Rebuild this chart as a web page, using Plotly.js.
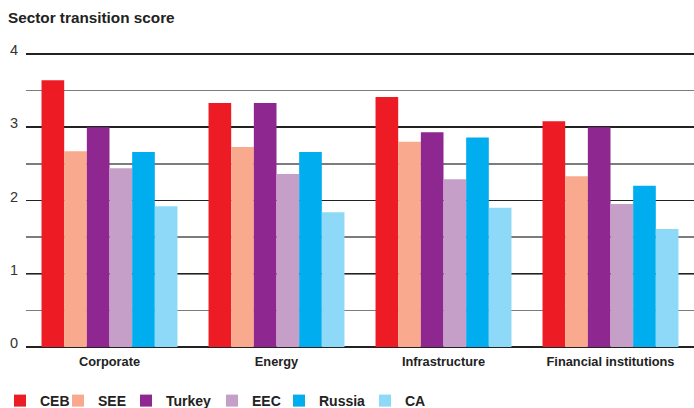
<!DOCTYPE html>
<html>
<head>
<meta charset="utf-8">
<script src="https://cdn.plot.ly/plotly-3.0.1.min.js"></script>
<style>html,body{margin:0;padding:0;background:#fff;}#chart{width:694px;height:408px;}</style>
</head>
<body>
<div id="chart"></div>
<script>
const categories = ["Corporate", "Energy", "Infrastructure", "Financial institutions"];
const seriesNames = ["CEB", "SEE", "Turkey", "EEC", "Russia", "CA"];
const CEB    = [3.64, 3.33, 3.41, 3.08];
const SEE    = [2.67, 2.73, 2.80, 2.33];
const Turkey = [3.00, 3.33, 2.93, 3.00];
const EEC    = [2.44, 2.36, 2.29, 1.95];
const Russia = [2.66, 2.66, 2.86, 2.20];
const CA     = [1.92, 1.84, 1.90, 1.61];
const yTickVals = [0, 1, 2, 3, 4];
const yTickText = ["0", "1", "2", "3", "4"];
const titleText = "Sector transition score";

const colors = ["#ED1C24", "#F8A98E", "#8E278F", "#C59FC8", "#00AEEF", "#8ED8F8"];
const values = [CEB, SEE, Turkey, EEC, Russia, CA];
const FONT = "Liberation Sans, Arial, sans-serif";
// left edge (px) of each legend entry
const legendLeft = [0, 58, 126, 212, 279, 365];

const legendIds = seriesNames.map((_, i) => i === 0 ? "legend" : "legend" + (i + 1));

const data = values.map((v, i) => ({
  type: "bar",
  name: seriesNames[i],
  x: categories,
  y: v,
  marker: {color: colors[i], line: {width: 0}},
  legend: legendIds[i],
  hoverinfo: "x+y+name"
}));

const layout = {
  width: 694, height: 408,
  margin: {l: 26, r: 0, t: 48.1, b: 61, pad: 0, autoexpand: false},
  paper_bgcolor: "#fff", plot_bgcolor: "#fff",
  font: {family: FONT, color: "#222"},
  barmode: "group",
  bargap: 0.186,
  bargroupgap: 0,
  title: {
    text: "<b>" + titleText + "</b>",
    font: {family: FONT, size: 15.3, color: "#222"},
    x: 8 / 694, xref: "container", xanchor: "left",
    y: 1 - 18 / 408, yref: "container", yanchor: "middle"
  },
  xaxis: {
    type: "category",
    automargin: false,
    showgrid: false, zeroline: false, showline: false,
    ticks: "",
    tickfont: {family: FONT, size: 12.8, color: "#222", weight: "bold"},
    ticklabelstandoff: 5,
    fixedrange: true
  },
  yaxis: {
    range: [0, 4.08],
    automargin: false,
    tickvals: yTickVals, ticktext: yTickText,
    showgrid: true, gridcolor: "#222", gridwidth: 1.5,
    minor: {dtick: 0.5, tick0: 0, showgrid: true, gridcolor: "#7c7c7c", gridwidth: 1.6, ticks: ""},
    zeroline: true, zerolinecolor: "#222", zerolinewidth: 1.5,
    showline: false, ticks: "",
    tickfont: {family: FONT, size: 14.5, color: "#333"},
    ticklabelstandoff: 7,
    ticklabelshift: -4,
    fixedrange: true
  },
  showlegend: true
};

legendIds.forEach((id, i) => {
  layout[id] = {
    orientation: "h",
    xref: "container", x: legendLeft[i] / 694, xanchor: "left",
    yref: "container", y: 1 - 401 / 408, yanchor: "middle",
    font: {family: FONT, size: 14, color: "#222", weight: "bold"},
    itemwidth: 30,
    bgcolor: "rgba(0,0,0,0)",
    borderwidth: 0
  };
});

Plotly.newPlot("chart", data, layout, {displayModeBar: false, staticPlot: true});
</script>
</body>
</html>
